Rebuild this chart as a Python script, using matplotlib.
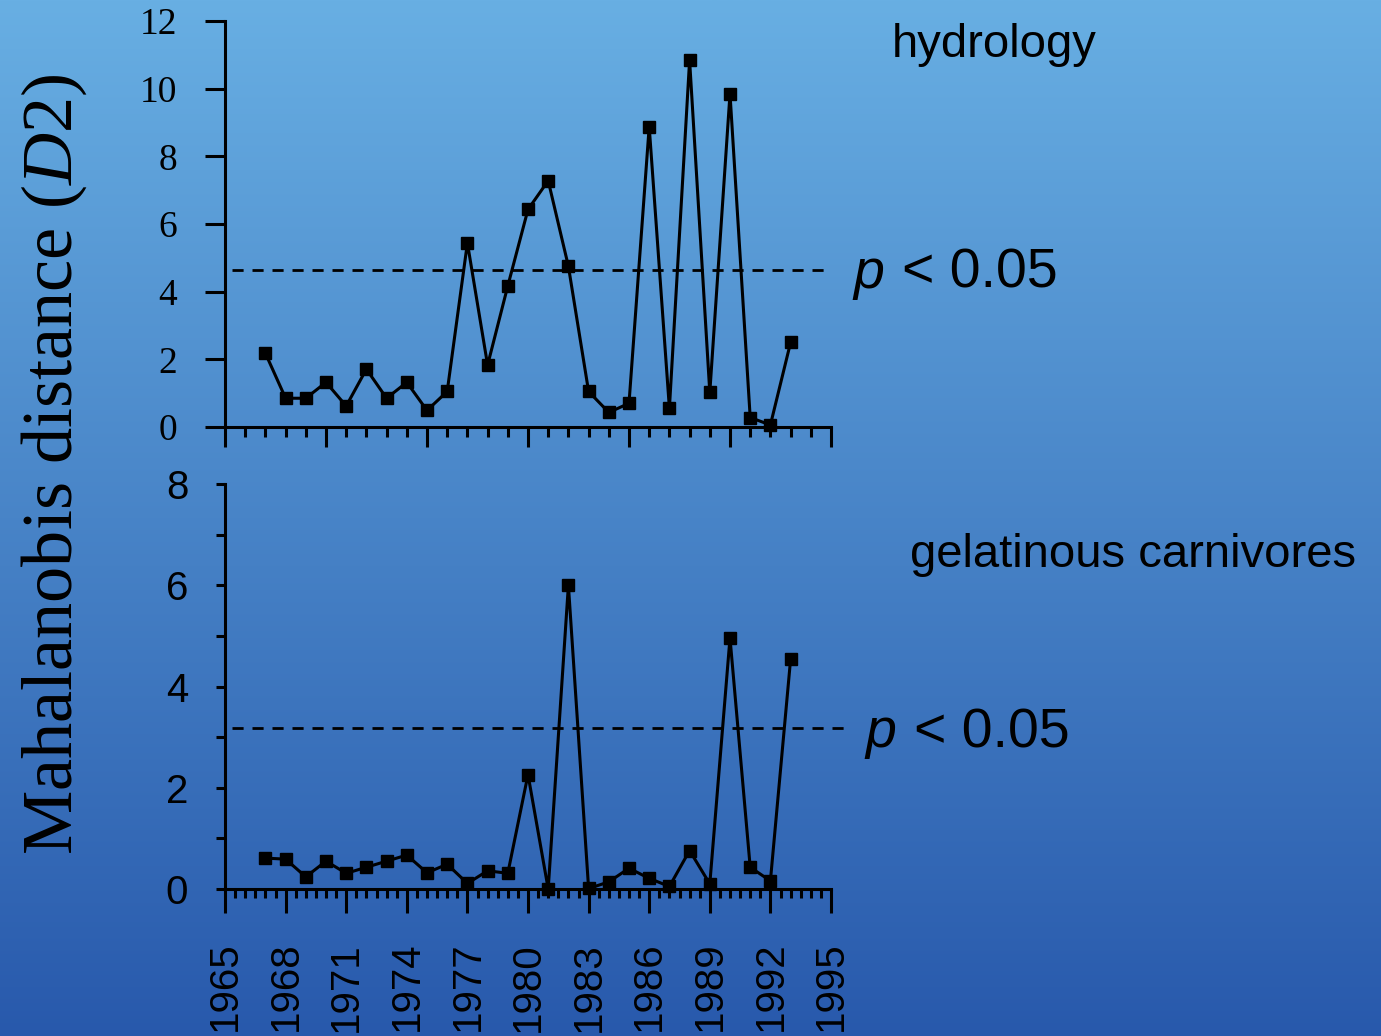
import matplotlib
matplotlib.use("Agg")
import matplotlib.pyplot as plt
import numpy as np
from matplotlib.ticker import MultipleLocator

# ---- data -------------------------------------------------------------
years = [1967, 1968, 1969, 1970, 1971, 1972, 1973, 1974, 1975, 1976,
         1977, 1978, 1979, 1980, 1981, 1982, 1983, 1984, 1985, 1986,
         1987, 1988, 1989, 1990, 1991, 1992, 1993]
hydrology = [2.18, 0.85, 0.85, 1.32, 0.62, 1.71, 0.85, 1.32, 0.49, 1.05,
             5.44, 1.83, 4.17, 6.43, 7.28, 4.75, 1.05, 0.43, 0.70, 8.88,
             0.55, 10.84, 1.02, 9.85, 0.28, 0.06, 2.50]
gelatinous = [0.61, 0.59, 0.24, 0.55, 0.31, 0.43, 0.55, 0.67, 0.32, 0.49,
              0.11, 0.36, 0.31, 2.26, 0.00, 6.00, 0.01, 0.14, 0.41, 0.21,
              0.05, 0.76, 0.10, 4.96, 0.43, 0.16, 4.54]
hydrology_threshold = 4.65
gelatinous_threshold = 3.19
panel_titles = ["hydrology", "gelatinous carnivores"]
sig_text = "< 0.05"
ylabel_text = r"Mahalanobis distance ($\mathit{D}$2)"

# ---- figure -----------------------------------------------------------
W, H = 1381, 1036
plt.rcParams["mathtext.fontset"] = "custom"
plt.rcParams["mathtext.rm"] = "Liberation Serif"
plt.rcParams["mathtext.it"] = "Liberation Serif:italic"
fig = plt.figure(figsize=(W / 100, H / 100), dpi=100)

# vertical blue gradient background
bg = fig.add_axes([0, 0, 1, 1], zorder=-10)
top_c = np.array([104, 175, 227]) / 255
bot_c = np.array([40, 89, 172]) / 255
t = np.linspace(0, 1, 512)[:, None, None]
bg.imshow(top_c + (bot_c - top_c) * t, aspect="auto", extent=[0, 1, 0, 1])
bg.set_axis_off()


def rect(x0, y0, x1, y1):
    return [x0 / W, 1 - y1 / H, (x1 - x0) / W, (y1 - y0) / H]


ax1 = fig.add_axes(rect(225, 21, 831, 427))
ax2 = fig.add_axes(rect(225, 484, 831, 889))

for ax in (ax1, ax2):
    ax.patch.set_visible(False)
    for s in ("top", "right"):
        ax.spines[s].set_visible(False)
    for s in ("left", "bottom"):
        ax.spines[s].set_linewidth(2.2)
    ax.set_xlim(1965, 1995)

line_kw = dict(color="black", lw=2.2, marker="s", ms=8.5, clip_on=False, zorder=5)
dash_kw = dict(color="black", lw=2.0, dashes=(4.0, 3.2), clip_on=False)

# top panel: hydrology
ax1.plot(years, hydrology, **line_kw)
ax1.axhline(hydrology_threshold, xmin=0.012, xmax=1.0, **dash_kw)
ax1.set_ylim(0, 12)
ax1.set_yticks(range(0, 13, 2))
ax1.xaxis.set_major_locator(MultipleLocator(5))
ax1.xaxis.set_minor_locator(MultipleLocator(1))
ax1.tick_params(axis="y", which="major", direction="out", length=14.4,
                width=2.2, pad=20, labelsize=27)
ax1.tick_params(axis="x", which="major", direction="out", length=14.4,
                width=2.2, labelbottom=False)
ax1.tick_params(axis="x", which="minor", direction="out", length=7.2, width=2.2)
for lbl in ax1.get_yticklabels():
    lbl.set_fontfamily("Liberation Serif")

# bottom panel: gelatinous carnivores
ax2.plot(years, gelatinous, **line_kw)
ax2.axhline(gelatinous_threshold, xmin=0.012, xmax=1.025, **dash_kw)
ax2.set_ylim(0, 8)
ax2.yaxis.set_major_locator(MultipleLocator(2))
ax2.yaxis.set_minor_locator(MultipleLocator(1))
ax2.xaxis.set_major_locator(MultipleLocator(3))
ax2.xaxis.set_minor_locator(MultipleLocator(0.5))
ax2.tick_params(axis="y", which="both", direction="out", length=6.5,
                width=2.2, pad=20, labelsize=29)
ax2.tick_params(axis="x", which="major", direction="out", length=17,
                width=2.2, pad=21, labelsize=29, labelrotation=90)
ax2.tick_params(axis="x", which="minor", direction="out", length=6.5, width=2.2)
for lbl in ax2.get_yticklabels() + ax2.get_xticklabels():
    lbl.set_fontfamily("Liberation Sans")

# annotations
sans = "Liberation Sans"
fig.text(892 / W, 1 - 57 / H, panel_titles[0], fontsize=34, family=sans,
         ha="left", va="baseline")
fig.text(910 / W, 1 - 567 / H, panel_titles[1], fontsize=34, family=sans,
         ha="left", va="baseline")
for x0, yb in ((853, 288), (865, 747)):
    fig.text(x0 / W, 1 - yb / H, "p", fontsize=40, family=sans,
             style="italic", ha="left", va="baseline")
    fig.text((x0 + 49) / W, 1 - yb / H, sig_text, fontsize=40, family=sans,
             ha="left", va="baseline")

fig.text(54 / W, 1 - 464 / H, ylabel_text, rotation=90, fontsize=52,
         family="Liberation Serif", ha="center", va="center")

fig.savefig("out.png", dpi=100)
